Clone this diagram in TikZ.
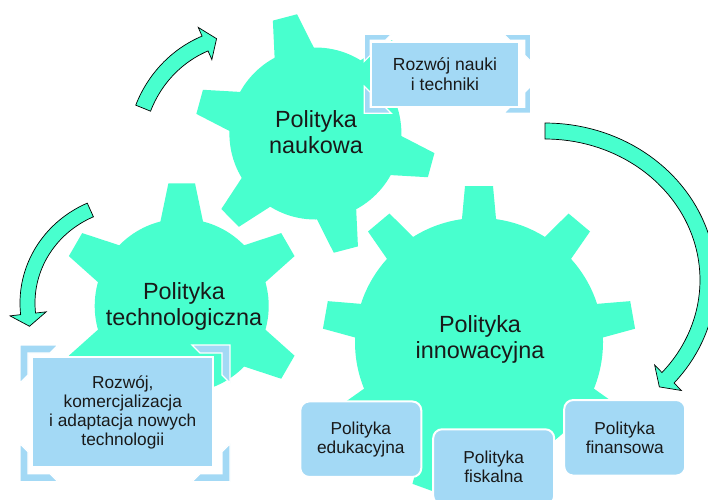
\documentclass[tikz,border=0pt]{standalone}
\usepackage{fontspec}
\setmainfont{Liberation Sans}
\definecolor{gearc}{RGB}{72,255,206}
\definecolor{boxc}{RGB}{163,217,245}
\definecolor{txtc}{RGB}{25,25,25}
\tikzset{
  geartext/.style={inner sep=0pt, align=center, text=txtc, font=\fontsize{23.4}{26}\selectfont},
  ibox/.style={fill=boxc, draw=white, line width=2pt, inner sep=0pt, align=center, text=txtc},
  rbox/.style={fill=boxc, draw=white, line width=2pt, rounded corners=9pt, inner sep=0pt,
    minimum width=121pt, minimum height=75.5pt, align=center, text=txtc,
    font=\fontsize{17.3}{18.8}\selectfont},
  brk/.style={fill=boxc, draw=white, line width=1.2pt},
  arrowst/.style={fill=gearc, draw=black, line width=0.7pt, line join=miter}
}
% gear: cx cy r R wb wo startangle count
\newcommand{\gearshape}[8]{%
  \fill[gearc] (#1,#2) circle[radius=#3];
  \pgfmathsetmacro{\gstep}{360/#8}%
  \foreach \k in {1,...,#8}{%
    \pgfmathsetmacro{\gang}{#7+\k*\gstep}%
    \fill[gearc, shift={(#1,#2)}, rotate=\gang] ({#3-6},{-#5}) -- (#4,{-#6}) -- (#4,#6) -- ({#3-6},#5) -- cycle;
  }%
}
% curved arrow: cx cy a b t0 t1 halfwidth headhalfwidth headlength
\newcommand{\carrow}[9]{%
  \pgfmathsetmacro{\qc}{cos(#6)}%
  \pgfmathsetmacro{\qs}{sin(#6)}%
  \pgfmathsetmacro{\qbx}{#1+#3*\qc}%
  \pgfmathsetmacro{\qby}{#2+#4*\qs}%
  \pgfmathsetmacro{\qtx}{-#3*\qs/100}%
  \pgfmathsetmacro{\qty}{#4*\qc/100}%
  \pgfmathsetmacro{\qtl}{sqrt(\qtx*\qtx+\qty*\qty)}%
  \pgfmathsetmacro{\qsg}{(#6>#5) ? 1 : -1}%
  \pgfmathsetmacro{\qux}{\qtx/\qtl}%
  \pgfmathsetmacro{\quy}{\qty/\qtl}%
  \draw[arrowst] plot[domain=#5:#6, samples=60] ({#1+(#3+#7)*cos(\x)},{#2+(#4+#7)*sin(\x)})
     -- ({\qbx+#8*\quy},{\qby-#8*\qux})
     -- ({\qbx+\qsg*#9*\qux},{\qby+\qsg*#9*\quy})
     -- ({\qbx-#8*\quy},{\qby+#8*\qux})
     -- plot[domain=#6:#5, samples=60] ({#1+(#3-#7)*cos(\x)},{#2+(#4-#7)*sin(\x)})
     -- cycle;
}
\newcommand{\bcorner}[6]{%
  \filldraw[brk, shift={(#1,#2)}, xscale=#3, yscale=#4] (0,0) -- (#5,0) -- ({#5-#6},#6) -- (#6,#6) -- (#6,{#5-#6}) -- (0,#5) -- cycle;}
\newcommand{\bframe}[6]{%
  \bcorner{#1}{#2}{1}{1}{#5}{#6}%
  \bcorner{#3}{#2}{-1}{1}{#5}{#6}%
  \bcorner{#1}{#4}{1}{-1}{#5}{#6}%
  \bcorner{#3}{#4}{-1}{-1}{#5}{#6}}
\begin{document}
\begin{tikzpicture}[x=1pt, y=-1pt]
\useasboundingbox (0,0) rectangle (708,499);
\fill[white] (0,0) rectangle (708,499);
% gears
\gearshape{315.4}{133.5}{86}{120}{21}{12.5}{-15.3}{6}
\gearshape{181.7}{305.9}{87}{122.6}{22}{13.3}{-30}{6}
\gearshape{479}{342}{124}{156}{17.5}{14}{-30}{9}
\node[geartext] (g1) at (316,132) {Polityka\\naukowa};
\node[geartext] (g2) at (184,306.5) {Polityka\\technologiczna};
\node[geartext] (g3) at (480,339.5) {Polityka\\innowacyjna};
% arrows
\carrow{247}{152}{112}{117}{202}{248}{8}{17.5}{12.5}
\carrow{134}{303}{106.5}{102}{245.8}{173.9}{7.5}{18.2}{12.5}
\carrow{545}{280}{163}{149}{270}{401}{8}{18.5}{12.6}
% bracket boxes
\bframe{364.3}{34.3}{530.7}{113.3}{27}{6}
\node[ibox, minimum width=148.6pt, minimum height=65.6pt, font=\fontsize{17.5}{20}\selectfont] (rn) at (445,74.5) {Rozwój nauki\\i techniki};
\bframe{20}{345}{230}{481.7}{38}{8}
\node[ibox, minimum width=181pt, minimum height=109.4pt, font=\fontsize{17.3}{19}\selectfont] (rk) at (122.8,412) {Rozwój,\\komercjalizacja\\i adaptacja nowych\\technologii};
% rounded boxes
\node[rbox] (pe) at (360.8,439.2) {Polityka\\edukacyjna};
\node[rbox] (pf) at (493.7,467) {Polityka\\fiskalna};
\node[rbox] (pn) at (624.7,437.8) {Polityka\\finansowa};
\end{tikzpicture}
\end{document}
